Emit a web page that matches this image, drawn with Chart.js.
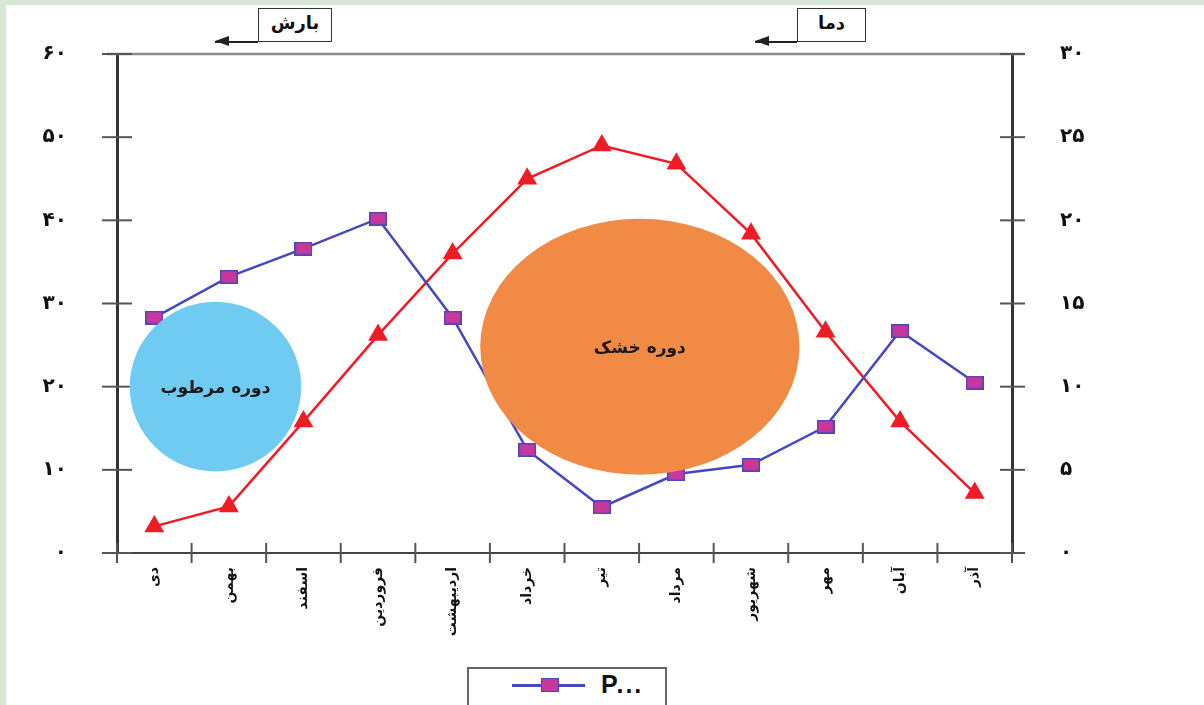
<!DOCTYPE html>
<html>
<head>
<meta charset="utf-8">
<title>نمودار آمبروترمیک</title>
<style>
    html, body { margin: 0; padding: 0; }
    body {
        width: 1204px; height: 705px; overflow: hidden; position: relative;
        background: #d6e9d4;
        font-family: "DejaVu Sans", sans-serif;
    }
    #panel { position: absolute; left: 6px; top: 5px; right: 0; bottom: 0; background: #fff; }
    #climateChart { position: absolute; left: 0; top: 0; }

    .axisBox {
        position: absolute; top: 8px; height: 34px; box-sizing: border-box;
        border: 1.5px solid #333; background: #fff;
        font-weight: bold; font-size: 18px; line-height: 28px; text-align: center;
        direction: rtl; color: #111;
    }
    .arrow { position: absolute; top: 41px; height: 1.5px; background: #222; }
    .arrow:before {
        content: ''; position: absolute; left: 0; top: -5px;
        border-right: 14px solid #222;
        border-top: 5.5px solid transparent; border-bottom: 5.5px solid transparent;
    }

    #legend {
        position: absolute; left: 467px; top: 667px; width: 200px; height: 44px;
        box-sizing: border-box; border: 2px solid #666; background: #fff;
    }
    #legend .ln { position: absolute; left: 43px; top: 15px; width: 73px; height: 3px; background: #4648c0; }
    #legend .sq {
        position: absolute; left: 72px; top: 9px; width: 18px; height: 14px; box-sizing: border-box;
        background: #c8379b; border: 1.5px solid #4648c0;
    }
    #legend .tx {
        position: absolute; left: 132px; top: 1px; line-height: 28px; color: #111;
        font: bold 25px "Liberation Sans", Arial, sans-serif; letter-spacing: 2px;
    }
</style>
<script src="https://cdn.jsdelivr.net/npm/chart.js"></script>
</head>
<body>
<div id="panel"></div>
<canvas id="climateChart" width="1204" height="705"></canvas>

<div class="arrow" style="left:215px; width:43px;"></div>
<div class="axisBox" style="left:258px; width:74px;">بارش</div>
<div class="arrow" style="left:755px; width:42px;"></div>
<div class="axisBox" style="left:797px; width:69px;">دما</div>

<div id="legend"><div class="ln"></div><div class="sq"></div><div class="tx">P...</div></div>

<script>
    // months (Persian calendar, starting from Dey)
    const months = ['دی', 'بهمن', 'اسفند', 'فروردین', 'اردیبهشت', 'خرداد', 'تیر', 'مرداد', 'شهریور', 'مهر', 'آبان', 'آذر'];

    // precipitation (mm), left axis
    const precipitation = [28.3, 33.2, 36.6, 40.2, 28.3, 12.4, 5.5, 9.5, 10.6, 15.2, 26.7, 20.5];
    // temperature (°C), right axis
    const temperature = [1.6, 2.8, 7.9, 13.1, 18.0, 22.5, 24.5, 23.4, 19.2, 13.3, 7.9, 3.6];

    // tick labels
    const precipTicks = ['۰', '۱۰', '۲۰', '۳۰', '۴۰', '۵۰', '۶۰'];
    const tempTicks = ['۰', '۵', '۱۰', '۱۵', '۲۰', '۲۵', '۳۰'];

    // wet / dry periods: centre (month index, precipitation) and radii in the same units
    const periodNames = ['دوره مرطوب', 'دوره خشک'];
    const periodMonth = [0.82, 6.51];
    const periodValue = [20, 24.8];
    const periodSpanX = [1.15, 2.14];
    const periodSpanY = [10.2, 15.4];
    const periodColors = ['#70cbf2', '#f18a45'];

    // magenta square marker with blue edge
    const square = document.createElement('canvas');
    square.width = 18; square.height = 14;
    const sq = square.getContext('2d');
    sq.fillStyle = '#c8379b';
    sq.fillRect(0, 0, 18, 14);
    sq.strokeStyle = '#4648c0';
    sq.lineWidth = 1.5;
    sq.strokeRect(0.75, 0.75, 16.5, 12.5);

    function line(ctx, x1, y1, x2, y2) {
        ctx.beginPath(); ctx.moveTo(x1, y1); ctx.lineTo(x2, y2); ctx.stroke();
    }

    // ticks crossing the axes, and the top frame line
    const frame = {
        id: 'frame',
        beforeDatasetsDraw(chart) {
            const { ctx, chartArea: a, scales } = chart;
            ctx.save();
            ctx.strokeStyle = '#8c8c8c';
            ctx.lineWidth = 2.5;
            line(ctx, a.left - 10, a.top, a.right + 12, a.top);

            ctx.strokeStyle = '#555';
            ctx.lineWidth = 2;
            scales.y.ticks.forEach((t, i) => {
                const py = scales.y.getPixelForTick(i);
                line(ctx, a.left - 15, py, a.left + 15, py);
            });
            scales.y1.ticks.forEach((t, i) => {
                const py = scales.y1.getPixelForTick(i);
                line(ctx, a.right - 12, py, a.right + 13, py);
            });
            for (let i = 0; i <= months.length; i++) {
                const px = scales.x.getPixelForValue(i - 0.5);
                line(ctx, px, a.bottom - 10, px, a.bottom + 10);
            }
            ctx.restore();
        },
        afterDatasetsDraw(chart) {
            const { ctx, scales } = chart;
            ctx.save();
            periodNames.forEach((name, i) => {
                const cx = scales.x.getPixelForValue(periodMonth[i]);
                const cy = scales.y.getPixelForValue(periodValue[i]);
                const rx = Math.abs(scales.x.getPixelForValue(periodMonth[i] + periodSpanX[i]) - cx);
                const ry = Math.abs(scales.y.getPixelForValue(periodValue[i] + periodSpanY[i]) - cy);
                ctx.fillStyle = periodColors[i];
                ctx.beginPath();
                ctx.ellipse(cx, cy, rx, ry, 0, 0, Math.PI * 2);
                ctx.fill();
                ctx.fillStyle = '#1a1a1a';
                ctx.font = 'bold 17px "DejaVu Sans"';
                ctx.textAlign = 'center';
                ctx.textBaseline = 'middle';
                ctx.direction = 'rtl';
                ctx.fillText(name, cx, cy + 2);
            });
            ctx.restore();
        }
    };

    const ctx = document.getElementById('climateChart').getContext('2d');
    new Chart(ctx, {
        type: 'line',
        data: {
            labels: months,
            datasets: [{
                label: 'P...',
                data: precipitation,
                yAxisID: 'y',
                borderColor: '#4648c0',
                borderWidth: 2.5,
                pointStyle: square,
                tension: 0
            }, {
                label: 'T',
                data: temperature,
                yAxisID: 'y1',
                borderColor: '#ee1c24',
                backgroundColor: '#ee1c24',
                borderWidth: 2.5,
                pointStyle: 'triangle',
                pointRadius: 9,
                tension: 0
            }]
        },
        options: {
            responsive: false,
            animation: false,
            layout: { padding: { top: 42, left: 0, right: 0, bottom: 0 } },
            plugins: { legend: { display: false }, tooltip: { enabled: false } },
            scales: {
                x: {
                    offset: true,
                    grid: { display: false },
                    border: { color: '#444', width: 2 },
                    ticks: {
                        autoSkip: false, minRotation: 90, maxRotation: 90, padding: 6,
                        color: '#111', font: { family: 'DejaVu Sans', size: 14, weight: 'bold' }
                    },
                    afterFit(s) { s.height = 152; }
                },
                y: {
                    position: 'left', min: 0, max: 60,
                    grid: { display: false },
                    border: { color: '#333', width: 3 },
                    ticks: {
                        stepSize: 10, padding: 42, color: '#111',
                        font: { family: 'DejaVu Sans', size: 20, weight: 'bold' },
                        callback: (v, i) => precipTicks[i]
                    },
                    afterFit(s) { s.width = 117; }
                },
                y1: {
                    position: 'right', min: 0, max: 30,
                    grid: { display: false },
                    border: { color: '#333', width: 3 },
                    ticks: {
                        stepSize: 5, padding: 40, color: '#111',
                        font: { family: 'DejaVu Sans', size: 20, weight: 'bold' },
                        callback: (v, i) => tempTicks[i]
                    },
                    afterFit(s) { s.width = 192; }
                }
            }
        },
        plugins: [frame]
    });
</script>
</body>
</html>
